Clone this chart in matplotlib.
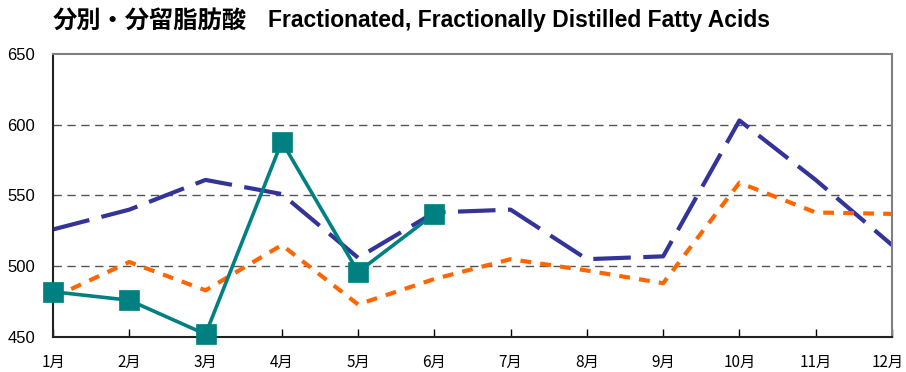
import matplotlib.pyplot as plt
from matplotlib.transforms import ScaledTranslation

plt.rcParams['font.family'] = ['Noto Sans CJK JP', 'DejaVu Sans']

months = ['1月', '2月', '3月', '4月', '5月', '6月', '7月', '8月', '9月', '10月', '11月', '12月']
navy_vals = [526, 540, 561, 551, 506, 538, 540, 505, 507, 603, 561, 515]
orange_vals = [478, 503, 483, 515, 473, 491, 505, 497, 488, 559, 538, 537]
teal_vals = [482, 476, 452, 588, 496, 537]
y_ticks = [450, 500, 550, 600, 650]

fig = plt.figure(figsize=(9.06, 3.72), dpi=100)
ax = fig.add_axes([0.0585, 0.094, 0.926, 0.761])

x = list(range(len(months)))

for y in [500, 550, 600]:
    ax.axhline(y, color='#555555', lw=1, linestyle=(0, (6, 4)), zorder=1)

ax.plot(x, navy_vals, color='#333399', lw=3, linestyle=(0, (9, 3)), zorder=2)
ax.plot(x, orange_vals, color='#FF6600', lw=3, linestyle=(0, (2.6, 2.2)), zorder=3)
ax.plot(x[:len(teal_vals)], teal_vals, color='#008080', lw=2.6, marker='s',
        markersize=14, markeredgewidth=0.5, zorder=4, clip_on=False)

ax.set_xlim(0, len(months) - 1)
ax.set_ylim(450, 650)
ax.set_xticks(x)
ax.set_xticklabels(months, fontsize=11)
ax.set_yticks(y_ticks)
ax.set_yticklabels([str(v) for v in y_ticks], fontsize=12, family='Liberation Sans')
ax.tick_params(axis='x', direction='in', length=6, pad=12, width=1)
ax.tick_params(axis='y', length=0, pad=13)

# keep the last month label inside the figure edge
last = ax.get_xticklabels()[-1]
last.set_transform(last.get_transform() + ScaledTranslation(-4 / 100, 0, fig.dpi_scale_trans))

for side in ['left', 'bottom']:
    ax.spines[side].set_color('#222222')
    ax.spines[side].set_linewidth(1.5)
for side in ['top', 'right']:
    ax.spines[side].set_color('#808080')
    ax.spines[side].set_linewidth(1.5)

fig.text(0.058, 0.944, '分別・分留脂肪酸', fontsize=17.5, fontweight='bold',
         va='center', ha='left')
fig.text(0.296, 0.944, 'Fractionated, Fractionally Distilled Fatty Acids',
         fontsize=16.5, fontweight='bold', va='center', ha='left',
         family='Liberation Sans')

fig.savefig('out.png', dpi=100)
